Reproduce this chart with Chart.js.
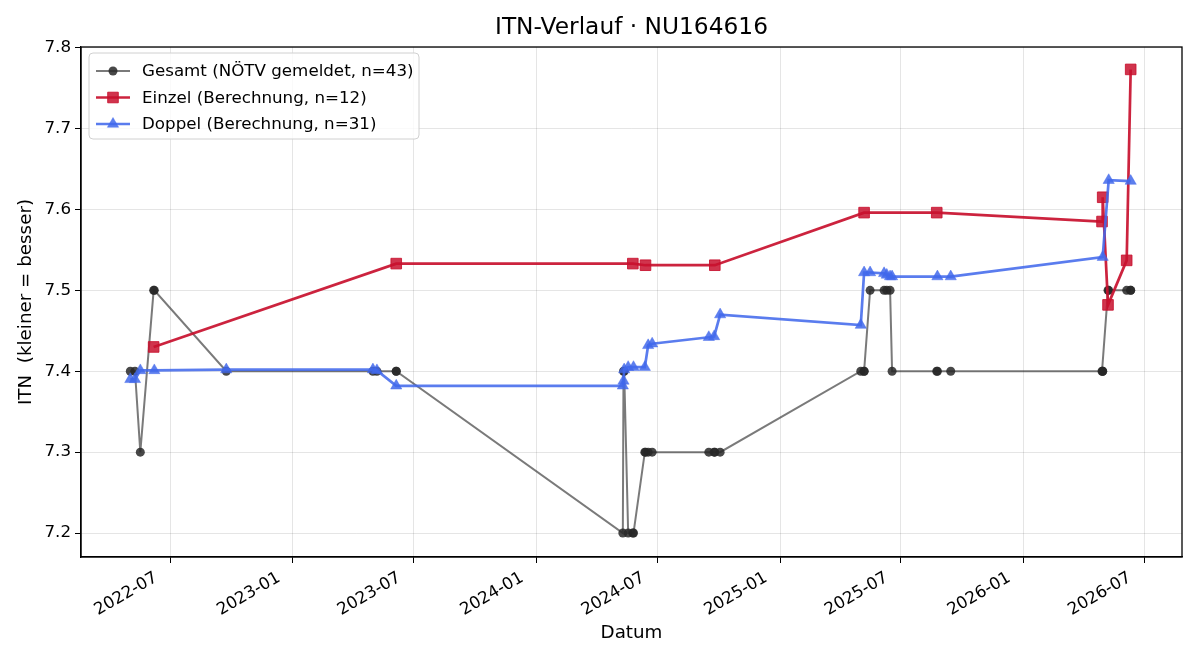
<!DOCTYPE html>
<html>
<head>
<meta charset="utf-8">
<title>ITN-Verlauf</title>
<script src="https://cdn.jsdelivr.net/npm/chart.js@4.4.1/dist/chart.umd.min.js"></script>
<style>
  html, body { margin: 0; padding: 0; background: #fff; }
  #wrap { width: 1200px; height: 660px; }
</style>
</head>
<body>
<div id="wrap"><canvas id="chart" width="1200" height="660"></canvas></div>
<script>
// Gesamt (NÖTV gemeldet)
const gesamtDates = [
  '2022-05-02', '2022-05-09', '2022-05-17', '2022-06-06', '2022-06-07', '2022-09-23',
  '2023-05-01', '2023-05-07', '2023-06-05', '2023-06-05',
  '2024-05-10', '2024-05-11', '2024-05-12', '2024-05-18', '2024-05-25', '2024-05-26',
  '2024-06-12', '2024-06-13', '2024-06-17', '2024-06-23',
  '2024-09-16', '2024-09-24', '2024-09-25', '2024-10-03',
  '2025-05-02', '2025-05-07', '2025-05-07', '2025-05-16',
  '2025-06-06', '2025-06-10', '2025-06-15', '2025-06-18',
  '2025-08-24', '2025-08-25', '2025-09-14',
  '2026-04-29', '2026-04-30', '2026-04-30', '2026-05-08', '2026-05-09',
  '2026-06-05', '2026-06-11', '2026-06-11'
];
const gesamtValues = [
  7.4, 7.4, 7.3, 7.5, 7.5, 7.4,
  7.4, 7.4, 7.4, 7.4,
  7.2, 7.4, 7.4, 7.2, 7.2, 7.2,
  7.3, 7.3, 7.3, 7.3,
  7.3, 7.3, 7.3, 7.3,
  7.4, 7.4, 7.4, 7.5,
  7.5, 7.5, 7.5, 7.4,
  7.4, 7.4, 7.4,
  7.4, 7.4, 7.4, 7.5, 7.5,
  7.5, 7.5, 7.5
];

// Einzel (Berechnung)
const einzelDates = [
  '2022-06-06', '2023-06-05', '2024-05-25', '2024-06-13', '2024-09-25',
  '2025-05-07', '2025-08-24', '2026-04-29', '2026-04-30', '2026-05-08',
  '2026-06-05', '2026-06-11'
];
const einzelValues = [
  7.430, 7.533, 7.533, 7.531, 7.531,
  7.596, 7.596, 7.585, 7.615, 7.482,
  7.537, 7.773
];

// Doppel (Berechnung)
const doppelDates = [
  '2022-05-02', '2022-05-09', '2022-05-17', '2022-06-07', '2022-09-23',
  '2023-05-01', '2023-05-07', '2023-06-05',
  '2024-05-10', '2024-05-11', '2024-05-12', '2024-05-18', '2024-05-26',
  '2024-06-12', '2024-06-17', '2024-06-23',
  '2024-09-16', '2024-09-24', '2024-10-03',
  '2025-05-02', '2025-05-07', '2025-05-16',
  '2025-06-06', '2025-06-10', '2025-06-15', '2025-06-18',
  '2025-08-25', '2025-09-14',
  '2026-04-30', '2026-05-09', '2026-06-11'
];
const doppelValues = [
  7.390, 7.390, 7.401, 7.401, 7.402,
  7.402, 7.401, 7.382,
  7.382, 7.388, 7.402, 7.405, 7.405,
  7.405, 7.432, 7.434,
  7.442, 7.443, 7.470,
  7.457, 7.522, 7.522,
  7.521, 7.519, 7.517, 7.517,
  7.517, 7.517,
  7.541, 7.636, 7.635
];

const xTickLabels = ['2022-07', '2023-01', '2023-07', '2024-01', '2024-07', '2025-01', '2025-07', '2026-01', '2026-07'];
const yTickValues = [7.2, 7.3, 7.4, 7.5, 7.6, 7.7, 7.8];
const xMin = '2022-02-17';
const xMax = '2026-08-27';
const yMin = 7.1704;
const yMax = 7.8007;

const FONT = 'DejaVu Sans';

function toMs(s) {
  const p = s.split('-').map(Number);
  return Date.UTC(p[0], p[1] - 1, p[2] || 1);
}

function fmtMonth(v) {
  const d = new Date(v);
  return d.getUTCFullYear() + '-' + String(d.getUTCMonth() + 1).padStart(2, '0');
}

function toPoints(dates, values) {
  return dates.map((d, i) => ({ x: toMs(d), y: values[i] }));
}

const series = [
  {
    label: 'Gesamt (NÖTV gemeldet, n=43)',
    data: toPoints(gesamtDates, gesamtValues),
    borderColor: 'rgba(40, 40, 40, 0.62)',
    backgroundColor: 'rgba(40, 40, 40, 0.85)',
    pointBorderColor: 'rgba(40, 40, 40, 0.85)',
    pointBorderWidth: 0,
    borderWidth: 2,
    pointStyle: 'circle',
    pointRadius: 4.5,
    order: 3,
  },
  {
    label: 'Einzel (Berechnung, n=12)',
    data: toPoints(einzelDates, einzelValues),
    borderColor: 'rgba(200, 16, 46, 0.92)',
    backgroundColor: 'rgba(200, 16, 46, 0.85)',
    pointBorderColor: 'rgba(200, 16, 46, 0.85)',
    pointBorderWidth: 1,
    borderWidth: 2.7,
    pointStyle: 'rect',
    pointRadius: 7.5,
    order: 2,
  },
  {
    label: 'Doppel (Berechnung, n=31)',
    data: toPoints(doppelDates, doppelValues),
    borderColor: 'rgba(65, 105, 235, 0.87)',
    backgroundColor: 'rgba(65, 105, 235, 0.85)',
    pointBorderColor: 'rgba(65, 105, 235, 0.85)',
    pointBorderWidth: 0.5,
    borderWidth: 2.7,
    pointStyle: 'triangle',
    pointRadius: 6.5,
    order: 1,
  },
];

// frame on all four sides, like matplotlib spines
const spinesPlugin = {
  id: 'spines',
  afterDatasetsDraw(chart) {
    const { ctx, chartArea: a } = chart;
    ctx.save();
    ctx.strokeStyle = '#000';
    ctx.lineWidth = 1.3;
    ctx.strokeRect(a.left, a.top, a.right - a.left, a.bottom - a.top);
    ctx.restore();
  },
};

const titlePlugin = {
  id: 'plotTitle',
  afterDraw(chart) {
    const { ctx, chartArea: a } = chart;
    ctx.save();
    ctx.fillStyle = '#000';
    ctx.font = '23.3px "' + FONT + '"';
    ctx.textAlign = 'center';
    ctx.textBaseline = 'middle';
    ctx.fillText('ITN-Verlauf · NU164616', (a.left + a.right) / 2, 28);
    ctx.restore();
  },
};

function drawMarker(ctx, style, r, bw, x, y) {
  ctx.beginPath();
  if (style === 'circle') {
    ctx.arc(x, y, r, 0, Math.PI * 2);
  } else if (style === 'rect') {
    const s = Math.SQRT1_2 * r;
    ctx.rect(x - s, y - s, 2 * s, 2 * s);
  } else {
    ctx.moveTo(x, y - r);
    ctx.lineTo(x + r * Math.sin(Math.PI / 3), y + r / 2);
    ctx.lineTo(x - r * Math.sin(Math.PI / 3), y + r / 2);
    ctx.closePath();
  }
  ctx.fill();
  if (bw > 0) {
    ctx.lineWidth = bw;
    ctx.stroke();
  }
}

const legendPlugin = {
  id: 'boxLegend',
  afterDraw(chart) {
    const { ctx, chartArea: a } = chart;
    const x0 = a.left + 8, y0 = a.top + 6, w = 330, h = 86;
    ctx.save();
    ctx.beginPath();
    ctx.roundRect(x0, y0, w, h, 4);
    ctx.fillStyle = 'rgba(255,255,255,0.8)';
    ctx.fill();
    ctx.strokeStyle = '#d0d0d0';
    ctx.lineWidth = 1;
    ctx.stroke();
    chart.data.datasets.forEach((ds, i) => {
      const y = y0 + 18 + i * 26.5;
      ctx.strokeStyle = ds.borderColor;
      ctx.lineWidth = ds.borderWidth;
      ctx.beginPath();
      ctx.moveTo(x0 + 7, y);
      ctx.lineTo(x0 + 41, y);
      ctx.stroke();
      ctx.fillStyle = ds.backgroundColor;
      ctx.strokeStyle = ds.pointBorderColor;
      drawMarker(ctx, ds.pointStyle, ds.pointRadius, ds.pointBorderWidth, x0 + 24, y);
      ctx.fillStyle = '#000';
      ctx.font = '16.7px "' + FONT + '"';
      ctx.textAlign = 'left';
      ctx.textBaseline = 'middle';
      ctx.fillText(ds.label, x0 + 53, y + 1);
    });
    ctx.restore();
  },
};

const tickFont = { family: FONT, size: 16.7 };
const labelFont = { family: FONT, size: 18.3 };
const gridOpts = { color: 'rgba(0,0,0,0.1)', tickColor: '#000', tickLength: 6, lineWidth: 1 };
const borderOpts = { color: '#000', width: 1.3 };

new Chart(document.getElementById('chart'), {
  type: 'line',
  data: { datasets: series },
  options: {
    responsive: false,
    animation: false,
    devicePixelRatio: 1,
    layout: { padding: { top: 47, right: 18, bottom: 0, left: 0 } },
    elements: {
      line: { tension: 0, fill: false },
    },
    plugins: {
      legend: { display: false },
      title: { display: false },
      tooltip: { enabled: false },
    },
    scales: {
      x: {
        type: 'linear',
        min: toMs(xMin),
        max: toMs(xMax),
        afterBuildTicks: (s) => { s.ticks = xTickLabels.map((l) => ({ value: toMs(l) })); },
        afterFit: (s) => { s.height = 103; },
        ticks: {
          autoSkip: false,
          minRotation: 30,
          maxRotation: 30,
          padding: 5,
          labelOffset: -14,
          color: '#000',
          font: tickFont,
          callback: (v) => fmtMonth(v),
        },
        grid: gridOpts,
        border: borderOpts,
        title: { display: true, text: 'Datum', color: '#000', font: labelFont, padding: { top: 0, bottom: 16 } },
      },
      y: {
        min: yMin,
        max: yMax,
        afterBuildTicks: (s) => { s.ticks = yTickValues.map((v) => ({ value: v })); },
        afterFit: (s) => { s.width = 81; },
        ticks: {
          padding: 4,
          color: '#000',
          font: tickFont,
          callback: (v) => v.toFixed(1),
        },
        grid: gridOpts,
        border: borderOpts,
        title: { display: true, text: 'ITN  (kleiner = besser)', color: '#000', font: labelFont, padding: { top: 15, bottom: 0 } },
      },
    },
  },
  plugins: [spinesPlugin, titlePlugin, legendPlugin],
});
</script>
</body>
</html>
